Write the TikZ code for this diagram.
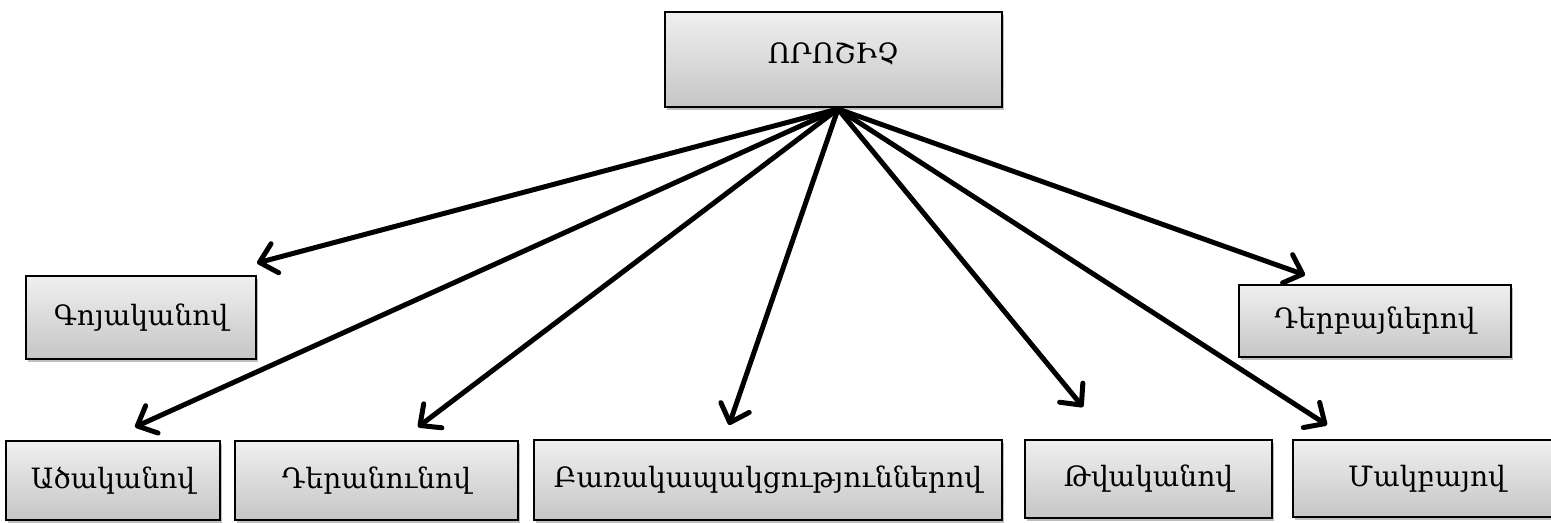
\documentclass[tikz,border=0pt]{standalone}
\usepackage{fontspec}
\setmainfont{DejaVu Serif}
\usetikzlibrary{arrows.meta,shadows}
\tikzset{
  box/.style={draw=black, line width=1.2pt, top color=gray!12, bottom color=gray!45,
    drop shadow={shadow xshift=1.2pt, shadow yshift=-1.5pt, opacity=0.25, fill=black},
    inner sep=0pt, font=\fontsize{14}{17}\selectfont},
  conn/.style={line width=2.5pt, -{Straight Barb[length=8pt,width=15pt,line width=2.5pt,round]}}
}
\begin{document}
\begin{tikzpicture}[x=0.5pt,y=-0.5pt]
\useasboundingbox (0,0) rectangle (1551,523);
\clip (0,0) rectangle (1551,523);
\fill[white] (0,0) rectangle (1551,523);
\node[box, minimum width=168.5pt, minimum height=47.5pt] (top) at (833.5,59.5) {\raisebox{6pt}{ՈՐՈՇԻՉ}};
\node[box, minimum width=115pt, minimum height=41.5pt] (goy) at (141,317.5) {Գոյականով};
\node[box, minimum width=107pt, minimum height=39.5pt] (adz) at (113,480.5) {Ածականով};
\node[box, minimum width=141.5pt, minimum height=39.5pt] (der) at (376.5,480.5) {Դերանունով};
\node[box, minimum width=234pt, minimum height=40pt] (bar) at (768,480) {Բառակապակցություններով};
\node[box, minimum width=123.5pt, minimum height=39pt] (tva) at (1148.5,479) {Թվականով};
\node[box, minimum width=134pt, minimum height=38.5pt] (mak) at (1427,478.5) {Մակբայով};
\node[box, minimum width=136pt, minimum height=36pt] (derb) at (1375,321) {Դերբայներով};
\coordinate (o) at (838,109);
\coordinate (tgoy) at (257,263);
\coordinate (tadz) at (135,427);
\coordinate (tder) at (418,427);
\coordinate (tbar) at (729,425);
\coordinate (ttva) at (1083,407);
\coordinate (tmak) at (1327,425);
\coordinate (tderb) at (1305,275);
\foreach \t in {tgoy,tadz,tder,tbar,ttva,tmak,tderb}
  \draw[conn] (o) -- (\t);
\end{tikzpicture}
\end{document}
